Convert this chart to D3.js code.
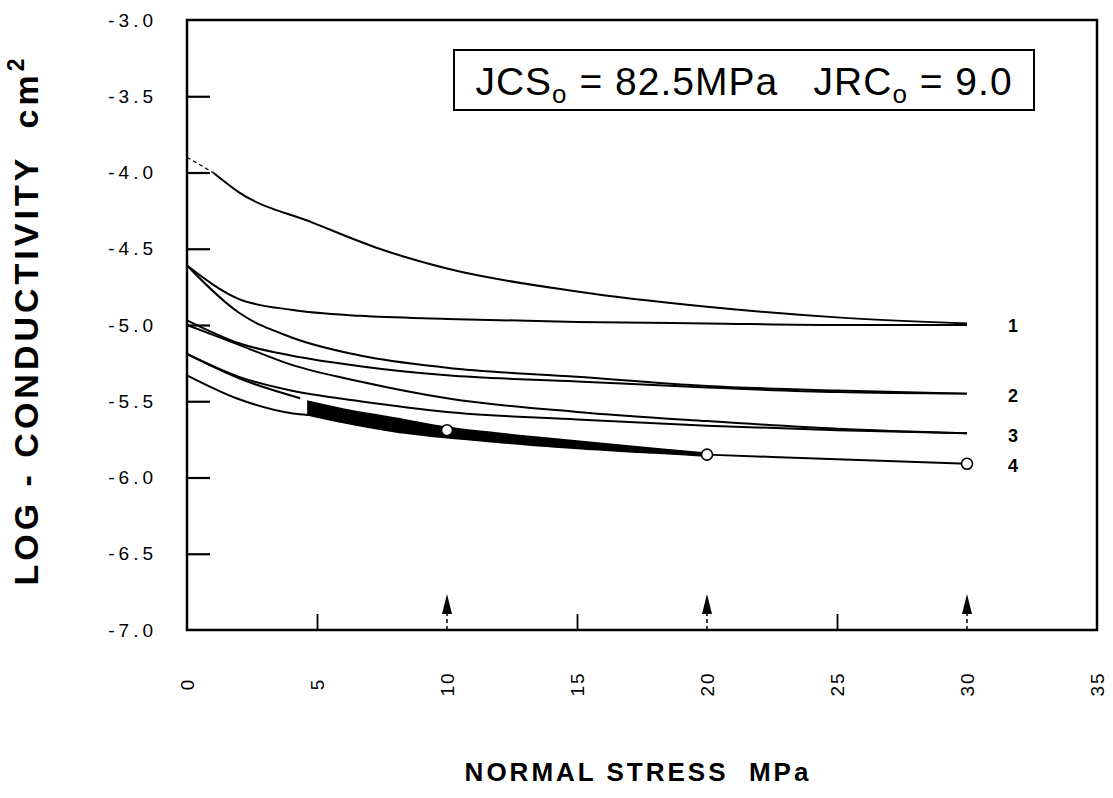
<!DOCTYPE html>
<html>
<head>
<meta charset="utf-8">
<script src="https://cdn.jsdelivr.net/npm/d3@7"></script>
<style>
	body { margin: 0; background: #fff; }
	svg { display: block; font-family: "Liberation Sans", Arial, sans-serif; }
	text { white-space: pre; }
</style>
</head>
<body>
<svg id="chart" width="1113" height="798"></svg>
<script>
// normal stress (MPa) / log conductivity (cm2)
var stressA = [0, 1, 2, 4.85, 7.4, 10, 15, 20, 25, 30];
var condA = [-3.90, -4.00, -4.13, -4.33, -4.50, -4.63, -4.78, -4.88, -4.95, -4.99];
var stressB = [0, 2, 4, 6.65, 10, 15, 20, 25, 30];
var condB = [-4.61, -4.83, -4.90, -4.94, -4.96, -4.98, -4.99, -5.00, -5.00];
var stressC = [0, 2, 4, 6.65, 10, 15, 20, 25, 30];
var condC = [-4.61, -4.92, -5.08, -5.20, -5.28, -5.34, -5.40, -5.43, -5.45];
var stressD = [0, 2, 4, 6.65, 10, 15, 20, 25, 30];
var condD = [-4.97, -5.12, -5.20, -5.27, -5.33, -5.37, -5.41, -5.44, -5.45];
var stressE = [0, 2, 4, 6.65, 10, 15, 20, 25, 30];
var condE = [-5.00, -5.13, -5.26, -5.37, -5.48, -5.57, -5.63, -5.68, -5.71];
var stressF = [0, 2, 4, 6.65, 10, 15, 20, 25, 30];
var condF = [-5.19, -5.34, -5.43, -5.50, -5.57, -5.62, -5.66, -5.69, -5.71];
var stressG = [0, 2, 4.35];
var condG = [-5.19, -5.35, -5.48];
var stressH = [0, 1.9, 4.08, 4.65];
var condH = [-5.33, -5.48, -5.58, -5.59];
// shaded band (curve 4)
var bandStress = [4.65, 6, 8, 10, 12, 15, 18, 20];
var bandTop = [-5.50, -5.55, -5.61, -5.67, -5.71, -5.76, -5.81, -5.84];
var bandBottom = [-5.59, -5.64, -5.70, -5.74, -5.77, -5.81, -5.84, -5.86];
var stress4 = [20, 25, 30];
var cond4 = [-5.85, -5.88, -5.91];
var markStress = [10, 20, 30];
var markCond = [-5.69, -5.85, -5.91];
var arrowStress = [10, 20, 30];
var minorTicks = [5, 15, 25];
var curveNames = ['1', '2', '3', '4'];
var curveEnds = [-5.00, -5.46, -5.72, -5.92];
var xTicks = [0, 5, 10, 15, 20, 25, 30, 35];
var yTicks = [-3.0, -3.5, -4.0, -4.5, -5.0, -5.5, -6.0, -6.5, -7.0];

var svg = d3.select('#chart');
var x = d3.scaleLinear().domain([0, 35]).range([187, 1097]),
	y = d3.scaleLinear().domain([-7, -3]).range([630, 20]);

var pts = function(xs, ys){
	return xs.map(function(v, i){ return [v, ys[i]]; });
};
var line = d3.line()
	.x(function(d){ return x(d[0]); })
	.y(function(d){ return y(d[1]); })
	.curve(d3.curveMonotoneX);

// frame
svg.append('rect')
	.attr('x', x(0)).attr('y', y(-3))
	.attr('width', x(35) - x(0)).attr('height', y(-7) - y(-3))
	.attr('fill', 'none').attr('stroke', '#000').attr('stroke-width', 2.5);

// y axis (ticks inside)
var yAxis = d3.axisLeft(y).tickValues(yTicks).tickSize(-23).tickPadding(30)
	.tickFormat(function(d){ return d3.format('.1f')(d).replace('\u2212', '-'); });
var gy = svg.append('g').attr('transform', 'translate(' + x(0) + ',0)').call(yAxis);
gy.select('.domain').remove();
gy.selectAll('line').attr('stroke-width', 2.2)
	.filter(function(d){ return d === -3 || d === -7; }).remove();
gy.selectAll('text').attr('font-size', 19).attr('letter-spacing', 4).attr('fill', '#000');

// x axis: minor ticks, rotated labels
var xAxis = d3.axisBottom(x).tickValues(minorTicks).tickSize(-16).tickFormat('');
var gx = svg.append('g').attr('transform', 'translate(0,' + y(-7) + ')').call(xAxis);
gx.select('.domain').remove();
gx.selectAll('line').attr('stroke-width', 1.8);

svg.append('g').selectAll('text').data(xTicks).enter().append('text')
	.attr('transform', function(d){ return 'translate(' + (x(d) + 7) + ',684) rotate(-90)'; })
	.attr('text-anchor', 'middle')
	.attr('font-size', 19)
	.attr('letter-spacing', 2)
	.text(function(d){ return d; });

// arrows at the test stresses
var arrows = svg.append('g').selectAll('g').data(arrowStress).enter().append('g')
	.attr('transform', function(d){ return 'translate(' + x(d) + ',' + y(-7) + ')'; });
arrows.append('line')
	.attr('y1', 0).attr('y2', -18)
	.attr('stroke', '#000').attr('stroke-width', 1.5).attr('stroke-dasharray', '4,3');
arrows.append('path')
	.attr('d', 'M-5,-16L5,-16L0,-36Z')
	.attr('fill', '#000');

// curves
var curves = [
	[stressB, condB], [stressC, condC], [stressD, condD],
	[stressE, condE], [stressF, condF], [stressG, condG], [stressH, condH], [stress4, cond4]
];
var g = svg.append('g').attr('fill', 'none').attr('stroke', '#000').attr('stroke-width', 2);
curves.forEach(function(c){
	g.append('path').attr('d', line(pts(c[0], c[1])));
});
g.append('path').attr('d', line(pts(stressA.slice(1), condA.slice(1))));
g.append('path').attr('d', line(pts(stressA.slice(0, 2), condA.slice(0, 2))))
	.attr('stroke-width', 1.2).attr('stroke-dasharray', '4,3');

var area = d3.area()
	.x(function(d){ return x(d[0]); })
	.y0(function(d){ return y(d[2]); })
	.y1(function(d){ return y(d[1]); })
	.curve(d3.curveMonotoneX);
svg.append('path')
	.attr('d', area(bandStress.map(function(v, i){ return [v, bandTop[i], bandBottom[i]]; })))
	.attr('fill', '#000').attr('stroke', '#000').attr('stroke-width', 1.5);

svg.append('g').selectAll('circle').data(pts(markStress, markCond)).enter().append('circle')
	.attr('cx', function(d){ return x(d[0]); })
	.attr('cy', function(d){ return y(d[1]); })
	.attr('r', 5.5)
	.attr('fill', '#fff').attr('stroke', '#000').attr('stroke-width', 1.6);

// curve numbers
svg.append('g').selectAll('text').data(curveNames).enter().append('text')
	.attr('x', 1013)
	.attr('y', function(d, i){ return y(curveEnds[i]) + 7; })
	.attr('text-anchor', 'middle')
	.attr('font-size', 18).attr('font-weight', 'bold')
	.text(function(d){ return d; });

// parameter box
svg.append('rect')
	.attr('x', 454).attr('y', 50).attr('width', 580).attr('height', 60)
	.attr('fill', '#fff').attr('stroke', '#000').attr('stroke-width', 2);
var t = svg.append('text').attr('x', 744).attr('y', 95)
	.attr('text-anchor', 'middle').attr('font-size', 39).attr('letter-spacing', 1);
t.append('tspan').text('JCS');
t.append('tspan').attr('font-size', 26).attr('dy', 8).text('o');
t.append('tspan').attr('dy', -8).text(' = 82.5MPa   JRC');
t.append('tspan').attr('font-size', 26).attr('dy', 8).text('o');
t.append('tspan').attr('dy', -8).text(' = 9.0');

// axis titles
var yt = svg.append('text')
	.attr('transform', 'translate(38,320) rotate(-90)')
	.attr('text-anchor', 'middle')
	.attr('font-size', 34).attr('font-weight', 'bold').attr('letter-spacing', 4);
yt.append('tspan').text('LOG - CONDUCTIVITY  cm');
yt.append('tspan').attr('font-size', 23).attr('dy', -14).text('2');

svg.append('text')
	.attr('x', 638).attr('y', 781)
	.attr('text-anchor', 'middle')
	.attr('font-size', 26).attr('font-weight', 'bold').attr('letter-spacing', 3)
	.text('NORMAL STRESS  MPa');
</script>
</body>
</html>
